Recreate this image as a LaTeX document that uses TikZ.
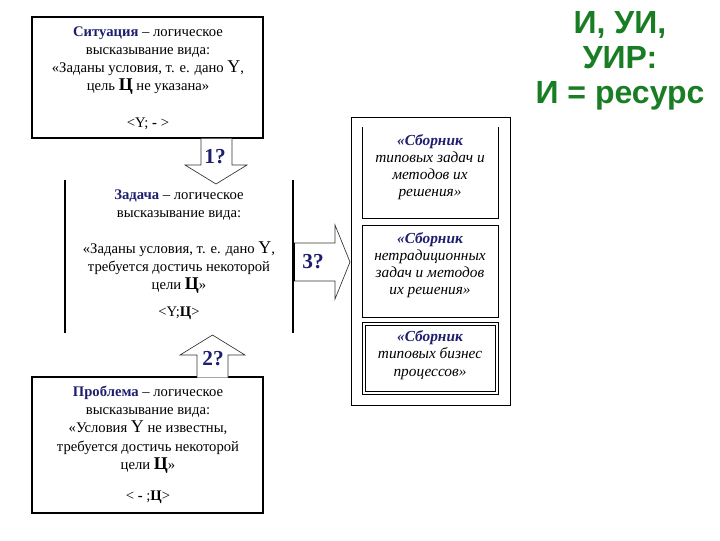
\documentclass[tikz,border=0pt]{standalone}
\usepackage{fontspec}
\setmainfont{Liberation Serif}
\newfontfamily\arialf{Liberation Sans}
\definecolor{navy}{RGB}{30,30,110}
\definecolor{grn}{RGB}{25,125,35}
\newcommand{\bigY}{{\fontsize{13.5}{13}\selectfont Y}}
\newcommand{\bigC}{{\fontsize{13.5}{13}\selectfont\bfseries Ц}}
\newcommand{\kw}[1]{\textcolor{navy}{\textbf{#1}}}
\begin{document}
\begin{tikzpicture}[x=0.75pt,y=-0.75pt,
  txt/.style={font=\fontsize{11}{13.7}\selectfont, align=center, inner sep=0},
  itxt/.style={font=\fontsize{11.5}{12.9}\selectfont\itshape, align=center, inner sep=0},
  boxline/.style={draw=black, line width=0.9pt},
  thinbox/.style={draw=black, line width=0.7pt},
  blockarrow/.style={draw=black!80, line width=0.5pt},
  qnum/.style={font=\fontsize{16}{16}\selectfont\bfseries, text=navy, inner sep=0},
  green/.style={font=\arialf\bfseries\fontsize{24}{26.3}\selectfont, text=grn, align=center, inner sep=0}]
\useasboundingbox (0,0) rectangle (720,540);

% Situation box
\node (sit) [boxline, minimum width=173.25pt, minimum height=90.75pt, inner sep=0] at (147.5,77.5) {};
\node (sittxt) [txt] at (148,60.5) {\kw{Ситуация} – логическое\\высказывание вида:\\«Заданы условия, т. е. дано \bigY,\\цель \bigC{} не указана»};
\node (sitf) [txt] at (148,124) {<Y; \textbf{-} >};

% Task (only side lines)
\coordinate (tl1) at (65,180); \coordinate (tl2) at (65,333);
\coordinate (tr1) at (293,180); \coordinate (tr2) at (293,333);
\draw[boxline] (tl1) -- (tl2);
\draw[boxline] (tr1) -- (tr2);
\node (tasktxt) [txt] at (179,205) {\kw{Задача} – логическое\\высказывание вида:};
\node (tasktxt2) [txt] at (179,267.5) {«Заданы условия, т. е. дано \bigY,\\требуется достичь некоторой\\цели \bigC»};
\node (taskf) [txt] at (179,313) {<Y;\textbf{Ц}>};

% Problem box
\node (prob) [boxline, minimum width=173.25pt, minimum height=102pt, inner sep=0] at (147.5,445) {};
\node (probtxt) [txt] at (148,429.5) {\kw{Проблема} – логическое\\высказывание вида:\\«Условия \bigY{} не известны,\\требуется достичь некоторой\\цели \bigC»};
\node (probf) [txt] at (148,497) {< \textbf{-} ;\textbf{Ц}>};

% Arrow 1 (situation -> task)
\draw[blockarrow, fill=white] (201,138.5) -- (201,165) -- (185,165) -- (216,184) -- (247,165) -- (232,165) -- (232,138.5);
\node (q1) [qnum] at (215,157) {1?};

% Arrow 2 (problem -> task)
\draw[blockarrow, fill=white] (197,377.5) -- (197,355) -- (180,355) -- (212.5,335) -- (245,355) -- (228,355) -- (228,377.5);
\node (q2) [qnum] at (213,359) {2?};

% Arrow 3 (task -> collections)
\draw[blockarrow, fill=white] (294,243) -- (335,243) -- (335,225) -- (350,262) -- (335,299) -- (335,281) -- (294,281);
\draw[line width=1.8pt] (294,243) -- (294,281);
\node (q3) [qnum] at (313,262) {3?};

% Right collections
\node (outer) [thinbox, minimum width=119.25pt, minimum height=216pt, inner sep=0] at (430.5,261) {};
\draw[thinbox] (362,127) -- (362,218) -- (498,218) -- (498,127);
\node (c1) [itxt] at (430,167) {\textcolor{navy}{\textbf{«Сборник}}\\типовых задач и\\методов их\\решения»};
\node (box2) [thinbox, minimum width=102pt, minimum height=69pt, inner sep=0] at (430,271) {};
\node (c2) [itxt] at (430,265) {\textcolor{navy}{\textbf{«Сборник}}\\нетрадиционных\\задач и методов\\их решения»};
\node (box3) [thinbox, minimum width=102pt, minimum height=54pt, inner sep=0] at (430,358) {};
\node (box3in) [thinbox, minimum width=97.5pt, minimum height=49.5pt, inner sep=0] at (box3.center) {};
\node (c3) [itxt] at (430,355) {\textcolor{navy}{\textbf{«Сборник}}\\типовых бизнес\\процессов»};

% Green heading
\node (head) [green] at (620,61) {И, УИ,\\УИР:\\И = ресурс};
\end{tikzpicture}
\end{document}
